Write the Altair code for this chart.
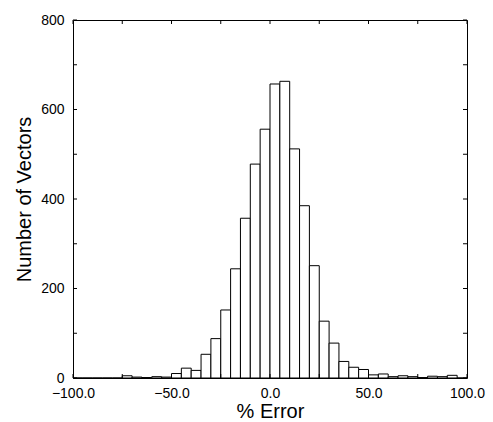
import altair as alt
import pandas as pd

# Histogram bins (% error, width 5) and counts
bin_start = list(range(-100, 100, 5))
counts = [0, 0, 0, 0, 0, 5, 2, 1, 3, 2,
          10, 22, 17, 53, 88, 152, 244, 357, 478, 556,
          657, 663, 512, 385, 251, 127, 78, 37, 24, 19,
          7, 9, 3, 5, 3, 1, 4, 3, 6, 0]
bin_width = 5

x_ticks = [-100, -75, -50, -25, 0, 25, 50, 75, 100]
x_labels = [-100, -50, 0, 50, 100]
y_ticks = [0, 100, 200, 300, 400, 500, 600, 700, 800]
y_labels = [0, 200, 400, 600, 800]

W, H = 394, 358
FONT = "Liberation Sans"
TL = 4  # inward tick length (px)

df = pd.DataFrame({"start": bin_start,
                   "end": [b + bin_width for b in bin_start],
                   "count": counts})
xt = pd.DataFrame({"v": x_ticks})
yt = pd.DataFrame({"v": y_ticks})

xscale = alt.Scale(domain=[-100, 100], nice=False, zero=False)
yscale = alt.Scale(domain=[0, 800], nice=False)

bars = alt.Chart(df).mark_rect(fill="white", stroke="black", strokeWidth=1).encode(
    x=alt.X("start:Q", scale=xscale,
            axis=alt.Axis(values=x_labels, format=".1f", title="% Error",
                          ticks=False, tickSize=0, domain=False, grid=False,
                          labelFont=FONT, labelFontSize=14, labelColor="black",
                          labelPadding=8, labelFlush=False,
                          titleFont=FONT, titleFontSize=20, titleFontWeight="normal",
                          titleColor="black", titlePadding=1)),
    x2="end:Q",
    y=alt.Y("count:Q", scale=yscale,
            axis=alt.Axis(values=y_labels, format="d", title="Number of Vectors",
                          ticks=False, tickSize=0, domain=False, grid=False,
                          labelFont=FONT, labelFontSize=14, labelColor="black",
                          labelPadding=9, labelFlush=False,
                          titleFont=FONT, titleFontSize=20, titleFontWeight="normal",
                          titleColor="black", titlePadding=6)),
    y2=alt.datum(0),
)

tick_style = dict(color="black", strokeWidth=1)
xb = alt.Chart(xt).mark_rule(**tick_style).encode(
    x=alt.X("v:Q", scale=xscale), y=alt.value(H), y2=alt.value(H - TL))
xtop = alt.Chart(xt).mark_rule(**tick_style).encode(
    x=alt.X("v:Q", scale=xscale), y=alt.value(0), y2=alt.value(TL))
yl = alt.Chart(yt).mark_rule(**tick_style).encode(
    y=alt.Y("v:Q", scale=yscale), x=alt.value(0), x2=alt.value(TL))
yr = alt.Chart(yt).mark_rule(**tick_style).encode(
    y=alt.Y("v:Q", scale=yscale), x=alt.value(W), x2=alt.value(W - TL))

chart = alt.layer(bars, xb, xtop, yl, yr).properties(
    width=W, height=H,
    autosize=alt.AutoSizeParams(type="none"),
    padding={"left": 73, "top": 20, "right": 26, "bottom": 44},
    background="white",
).configure_view(stroke="black", strokeWidth=1)

chart.save("out.html", embed_options={"renderer": "svg", "actions": False})
